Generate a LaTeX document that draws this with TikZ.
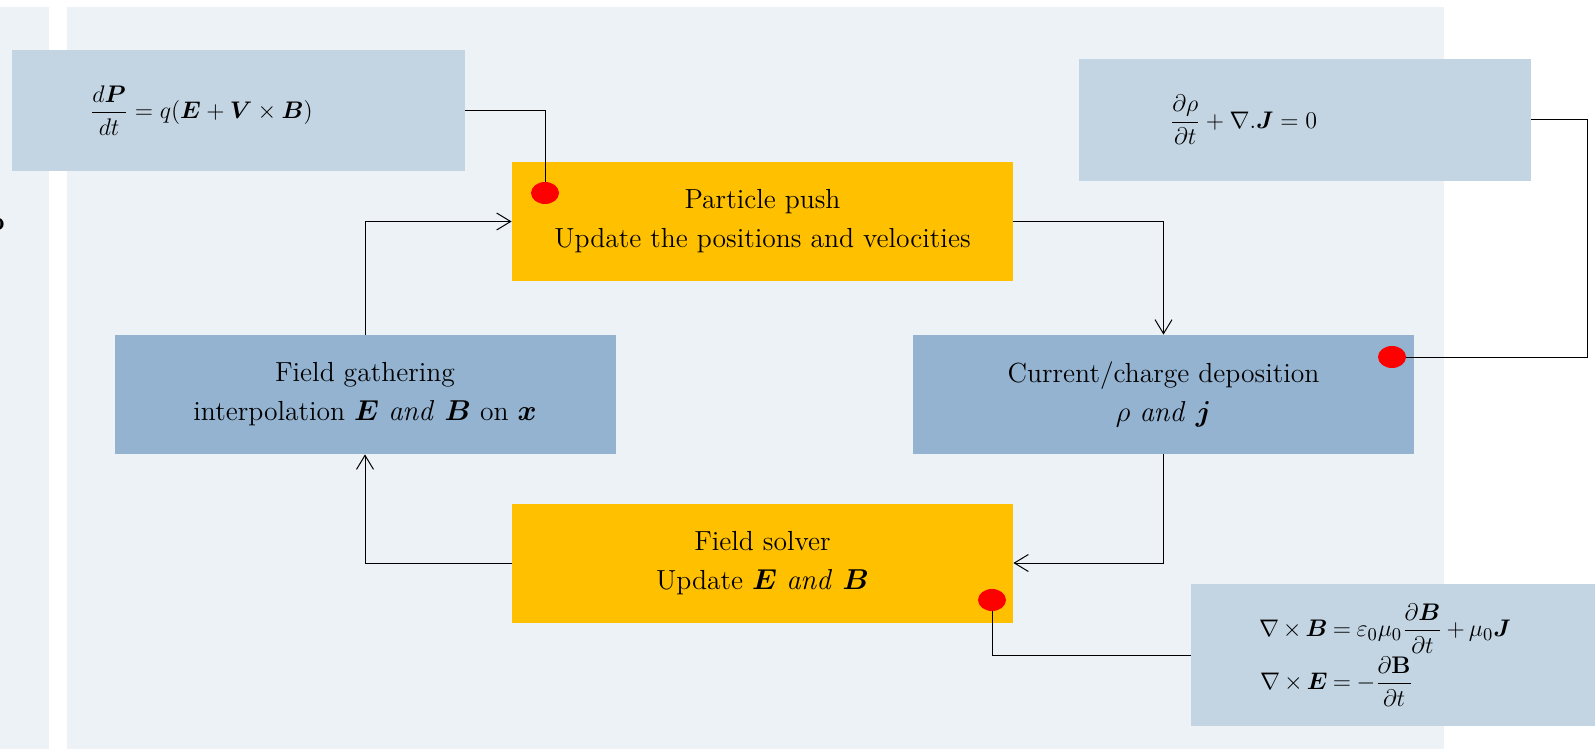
\documentclass[tikz,border=0pt]{standalone}
\definecolor{panelbg}{RGB}{237, 242, 247}
\definecolor{eqblue}{RGB}{195, 213, 227}
\definecolor{stepblue}{RGB}{147, 179, 208}
\definecolor{steporange}{RGB}{255, 192, 0}
\usepackage{amsmath,amssymb}
\usepackage{tikz}
\usetikzlibrary{shapes.geometric,arrows.meta,positioning}

\begin{document}
\begin{tikzpicture}[x=0.5pt, y=-0.5pt,
    every node/.style={font=\fontsize{13.8}{19.5}\selectfont},
    stagebox/.style={rectangle, inner sep=0pt, minimum width=250.5pt, minimum height=59.5pt, align=center},
    eqbox/.style={rectangle, fill=eqblue, inner ysep=0pt, align=left, font=\fontsize{12.5}{15.5}\selectfont},
    reddot/.style={ellipse, fill=red, inner sep=0pt, minimum width=14pt, minimum height=11pt},
    loop/.style={-{Straight Barb[length=7pt, width=8.5pt]}, line width=0.5pt},
    wire/.style={line width=0.5pt}]
        \useasboundingbox (0,0) rectangle (1595,749);

        % Background panels
        \fill[panelbg] (0,7) rectangle (49,749);
        \fill[panelbg] (67,7) rectangle (1444,749);
        \node[font=\fontsize{13.8}{19.5}\selectfont\bfseries] (cut) at (-3,224) {o};

        % Cycle steps
        \node[stagebox, fill=steporange] (Push) at (762.5,221.5) {Particle push\\Update the positions and velocities};
        \node[stagebox, fill=stepblue] (Deposit) at (1163.5,394.5) {Current/charge deposition\\$\rho\ \mathit{and}\ \boldsymbol{j}$};
        \node[stagebox, fill=steporange] (Solver) at (762.5,563) {Field solver\\Update $\boldsymbol{E}\ \mathit{and}\ \boldsymbol{B}$};
        \node[stagebox, fill=stepblue] (Gather) at (365,394.5) {Field gathering\\interpolation $\boldsymbol{E}\ \mathit{and}\ \boldsymbol{B}$ on $\boldsymbol{x}$};

        % Equations
        \node[eqbox, text width=148.5pt, inner xsep=39pt, minimum height=60.5pt] (EqMotion) at (238.5,110.5)
            {$\dfrac{d\boldsymbol{P}}{dt}=q(\boldsymbol{E}+\boldsymbol{V}\times\boldsymbol{B})$};
        \node[eqbox, text width=135pt, inner xsep=45.5pt, minimum height=61pt] (EqCharge) at (1305,120)
            {$\dfrac{\partial\rho}{\partial t}+\nabla.\boldsymbol{J}=0$};
        \node[eqbox, text width=134pt, inner xsep=34pt, minimum height=71pt] (EqMaxwell) at (1393,655)
            {$\medmuskip=3mu\thickmuskip=4mu\begin{aligned}\nabla\times\boldsymbol{B}&=\varepsilon_0\mu_0\dfrac{\partial\boldsymbol{B}}{\partial t}+\mu_0\boldsymbol{J}\\[-2pt]
              \nabla\times\boldsymbol{E}&=-\dfrac{\partial\mathbf{B}}{\partial t}\end{aligned}$};

        % Markers
        \node[reddot] (DotPush) at (545,193) {};
        \node[reddot] (DotDeposit) at (1392,357) {};
        \node[reddot] (DotSolver) at (992,600) {};
        \coordinate (Bend) at (1587,120);

        % Cycle arrows
        \draw[loop] (Push.east) -| (Deposit.north);
        \draw[loop] (Deposit.south) |- (Solver.east);
        \draw[loop] (Solver.west) -| (Gather.south);
        \draw[loop] (Gather.north) |- (Push.west);

        % Equation links
        \draw[wire] (EqMotion.east) -| (DotPush);
        \draw[wire] (EqCharge.east) -- (Bend) |- (DotDeposit);
        \draw[wire] (EqMaxwell.west) -| (DotSolver);
\end{tikzpicture}
\end{document}
